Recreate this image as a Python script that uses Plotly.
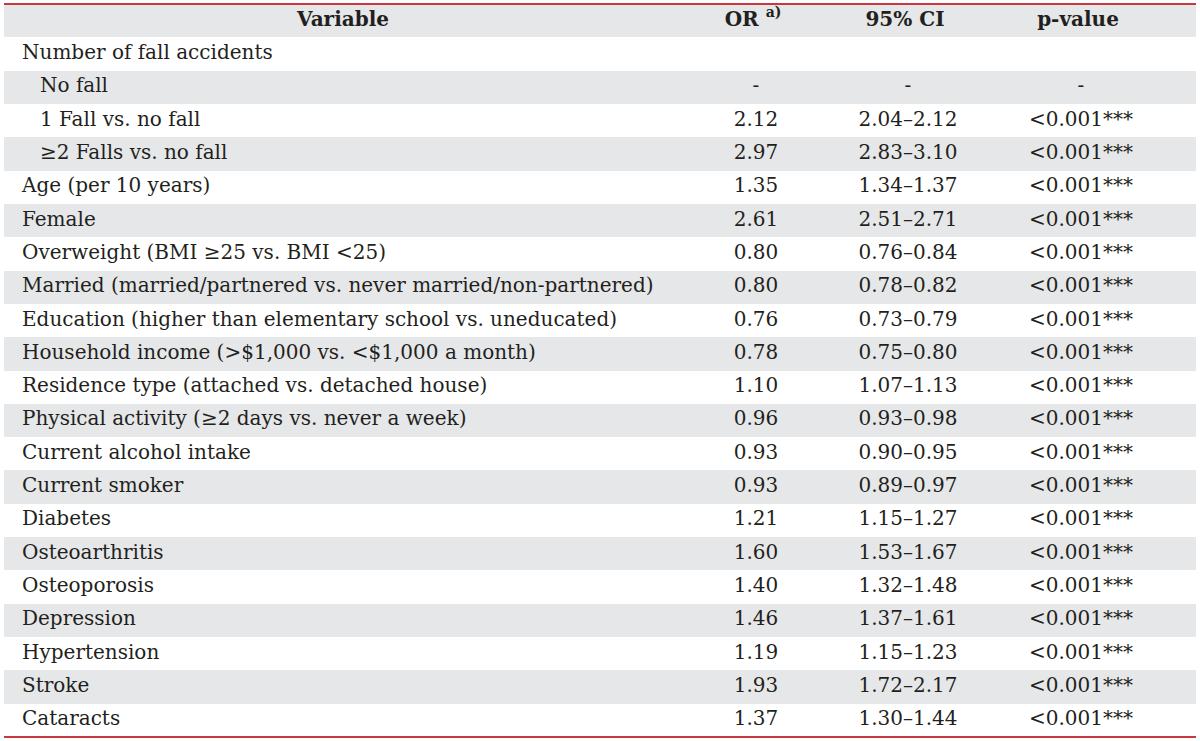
import plotly.graph_objects as go

variables = [
    "Number of fall accidents",
    "No fall",
    "1 Fall vs. no fall",
    "≥2 Falls vs. no fall",
    "Age (per 10 years)",
    "Female",
    "Overweight (BMI ≥25 vs. BMI <25)",
    "Married (married/partnered vs. never married/non-partnered)",
    "Education (higher than elementary school vs. uneducated)",
    "Household income (>$1,000 vs. <$1,000 a month)",
    "Residence type (attached vs. detached house)",
    "Physical activity (≥2 days vs. never a week)",
    "Current alcohol intake",
    "Current smoker",
    "Diabetes",
    "Osteoarthritis",
    "Osteoporosis",
    "Depression",
    "Hypertension",
    "Stroke",
    "Cataracts",
]
indent = [0, 1, 1, 1] + [0] * 17
odds_ratio = ["", "-", "2.12", "2.97", "1.35", "2.61", "0.80", "0.80", "0.76", "0.78",
              "1.10", "0.96", "0.93", "0.93", "1.21", "1.60", "1.40", "1.46", "1.19", "1.93", "1.37"]
ci_95 = ["", "-", "2.04–2.12", "2.83–3.10", "1.34–1.37", "2.51–2.71", "0.76–0.84", "0.78–0.82",
         "0.73–0.79", "0.75–0.80", "1.07–1.13", "0.93–0.98", "0.90–0.95", "0.89–0.97",
         "1.15–1.27", "1.53–1.67", "1.32–1.48", "1.37–1.61", "1.15–1.23", "1.72–2.17", "1.30–1.44"]
p_values = ["", "-"] + ["<0.001***"] * 19
headers = ["Variable", "OR <sup>a)</sup>", "95% CI", "p-value"]


def esc(s):
    return s.replace("&", "&amp;").replace("<", "&lt;").replace(">", "&gt;")


GRAY = "#e6e7e8"
WHITE = "#ffffff"
TXT = "#231f20"
RED = "#c8383e"
FONT = "DejaVu Serif"
FS = 20

W, H = 1200, 741
X0, X1 = 4, 1196
n = len(variables)
rows = list(range(1, n + 1))          # data rows; header is row 0
all_rows = [0] + rows
row_fill = [GRAY] + [WHITE if i % 2 == 0 else GRAY for i in range(n)]

col_left = [22, 40]                   # plain / indented x for the first column
header_x = [343, 753, 905, 1078]
col_x = [756, 908, 1081]

fig = go.Figure()

# row stripes
fig.add_trace(go.Bar(
    y=all_rows, x=[X1 - X0] * len(all_rows), base=X0, orientation="h",
    width=1.0, marker=dict(color=row_fill, line=dict(width=0)),
    hoverinfo="skip", showlegend=False,
))

# header
fig.add_trace(go.Scatter(
    x=header_x, y=[0] * 4, mode="text",
    text=["<b>" + h + "</b>" for h in headers],
    textposition="middle center",
    textfont=dict(family=FONT, size=FS, color=TXT),
    hoverinfo="skip", showlegend=False,
))

# first column
fig.add_trace(go.Scatter(
    x=[col_left[i] for i in indent], y=rows, mode="text",
    text=[esc(v) for v in variables],
    textposition="middle right",
    textfont=dict(family=FONT, size=FS, color=TXT),
    hoverinfo="skip", showlegend=False,
))

# numeric columns (empty cells skipped)
for cx, vals in zip(col_x, [odds_ratio, ci_95, p_values]):
    pts = [(r, v) for r, v in zip(rows, vals) if v]
    fig.add_trace(go.Scatter(
        x=[cx] * len(pts), y=[r for r, _ in pts], mode="text",
        text=[esc(v) for _, v in pts],
        textposition="middle center",
        textfont=dict(family=FONT, size=FS, color=TXT),
        hoverinfo="skip", showlegend=False,
    ))

for yy in (0, 1):
    fig.add_shape(type="line", xref="x", yref="paper",
                  x0=X0, x1=X1, y0=yy, y1=yy,
                  line=dict(color=RED, width=2))

fig.update_layout(
    width=W, height=H, margin=dict(l=0, r=0, t=4, b=4),
    paper_bgcolor="white", plot_bgcolor="white", bargap=0,
    xaxis=dict(range=[0, W], visible=False, fixedrange=True),
    yaxis=dict(range=[n + 0.5, -0.5], visible=False, fixedrange=True),
)
fig.write_html("out.html", config={"displayModeBar": False},
               post_script="document.body.style.margin='0';")
